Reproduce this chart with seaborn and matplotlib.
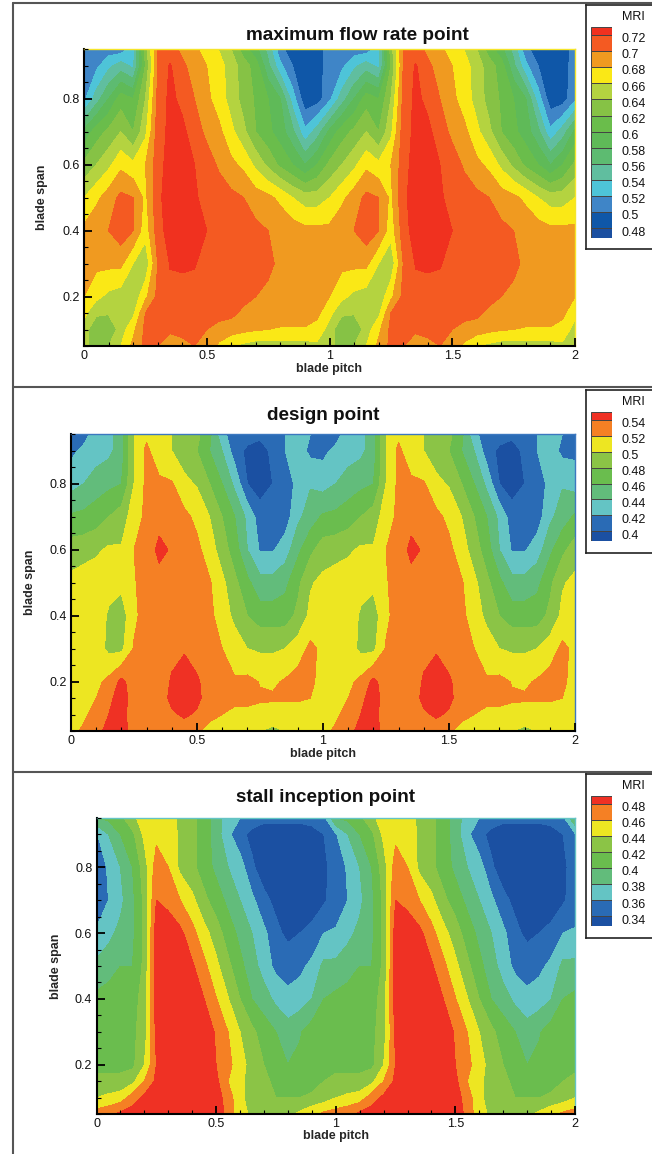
#!/usr/bin/env python
# coding: utf-8
import matplotlib
matplotlib.use("Agg")
import matplotlib.pyplot as plt
from matplotlib.lines import Line2D
from matplotlib.transforms import ScaledTranslation
import numpy as np
import seaborn as sns

# one blade passage, repeated once along the pitch
pitch = [0, .05, .1, .15, .2, .25, .3, .35, .4, .45, .5, .55, .6, .65, .7, .75, .8, .85, .9, .95]
span = [.05, .1, .15, .2, .3, .4, .5, .6, .7, .8, .9, .95]

mri_max_flow = [
    [.65, .625, .64, .66, .685, .705, .70, .685, .695, .70, .695, .675, .66, .655, .65, .65, .65, .652, .652, .655],
    [.652, .62, .622, .65, .675, .705, .705, .705, .705, .705, .70, .695, .69, .685, .682, .68, .678, .678, .678, .672],
    [.665, .645, .642, .645, .655, .70, .71, .71, .71, .71, .71, .705, .705, .695, .69, .69, .69, .69, .69, .685],
    [.68, .665, .655, .65, .645, .675, .705, .715, .715, .715, .715, .712, .712, .707, .70, .695, .69, .69, .69, .685],
    [.685, .685, .685, .685, .66, .645, .70, .721, .722, .721, .715, .715, .715, .715, .71, .705, .695, .69, .69, .69],
    [.685, .695, .70, .712, .70, .668, .71, .73, .73, .73, .72, .715, .715, .71, .705, .70, .695, .69, .685, .685],
    [.66, .675, .69, .705, .70, .675, .715, .73, .73, .722, .715, .71, .705, .70, .69, .685, .675, .66, .65, .65],
    [.625, .64, .655, .675, .665, .68, .71, .73, .73, .72, .71, .697, .685, .675, .655, .635, .615, .60, .58, .60],
    [.585, .61, .625, .64, .62, .655, .71, .725, .725, .71, .695, .685, .665, .645, .62, .605, .59, .565, .525, .55],
    [.515, .55, .58, .61, .60, .64, .705, .725, .715, .70, .685, .67, .652, .632, .617, .60, .58, .53, .487, .49],
    [.51, .515, .535, .55, .535, .62, .70, .722, .705, .69, .68, .668, .65, .63, .61, .565, .525, .50, .485, .49],
    [.51, .51, .51, .51, .53, .63, .70, .71, .695, .685, .67, .659, .64, .61, .586, .553, .505, .49, .485, .488],
]
mri_design = [
    [.51, .525, .53, .55, .55, .53, .53, .53, .53, .53, .525, .51, .51, .505, .505, .50, .495, .50, .505, .51],
    [.505, .515, .53, .54, .55, .525, .53, .53, .537, .543, .537, .528, .52, .515, .515, .515, .513, .51, .51, .51],
    [.505, .51, .52, .535, .55, .53, .53, .53, .545, .552, .545, .53, .53, .525, .525, .522, .522, .523, .523, .52],
    [.505, .51, .515, .525, .545, .53, .53, .53, .542, .55, .543, .53, .528, .522, .525, .519, .517, .522, .528, .528],
    [.515, .515, .51, .495, .495, .522, .53, .53, .535, .538, .53, .528, .52, .51, .50, .497, .497, .50, .51, .525],
    [.51, .51, .508, .498, .49, .515, .53, .53, .53, .53, .53, .525, .51, .495, .48, .47, .47, .47, .485, .505],
    [.505, .51, .51, .505, .505, .518, .53, .53, .53, .53, .53, .522, .505, .485, .465, .447, .447, .455, .475, .498],
    [.49, .492, .497, .503, .502, .52, .525, .547, .537, .53, .525, .51, .49, .47, .44, .418, .418, .43, .455, .475],
    [.463, .465, .47, .48, .49, .51, .525, .53, .53, .525, .515, .50, .48, .46, .435, .41, .405, .41, .435, .45],
    [.432, .44, .45, .455, .46, .50, .525, .525, .522, .505, .498, .48, .46, .435, .40, .39, .40, .41, .425, .438],
    [.415, .425, .43, .435, .45, .50, .525, .505, .50, .49, .48, .46, .44, .41, .395, .39, .405, .42, .43, .415],
    [.41, .412, .43, .435, .45, .50, .515, .515, .50, .49, .485, .465, .425, .41, .41, .405, .41, .42, .43, .42],
]
mri_stall = [
    [.47, .475, .485, .49, .50, .50, .50, .50, .50, .50, .50, .47, .45, .435, .43, .43, .435, .445, .455, .465],
    [.44, .445, .45, .47, .485, .50, .50, .50, .50, .50, .49, .47, .445, .43, .425, .42, .42, .42, .425, .43],
    [.425, .425, .425, .435, .46, .485, .50, .50, .50, .50, .485, .46, .445, .43, .425, .415, .41, .41, .41, .42],
    [.415, .415, .415, .415, .44, .48, .50, .50, .50, .495, .48, .465, .45, .43, .42, .41, .40, .405, .41, .41],
    [.41, .415, .415, .415, .43, .485, .50, .50, .50, .49, .478, .46, .44, .425, .41, .40, .39, .398, .41, .415],
    [.405, .41, .41, .41, .43, .49, .50, .50, .49, .48, .461, .441, .42, .40, .39, .375, .365, .37, .38, .40],
    [.385, .39, .40, .40, .425, .49, .495, .49, .483, .465, .445, .425, .405, .39, .37, .355, .352, .355, .365, .385],
    [.362, .375, .385, .395, .425, .49, .49, .485, .467, .447, .43, .41, .395, .38, .365, .345, .335, .34, .345, .36],
    [.35, .36, .375, .395, .425, .48, .475, .46, .445, .425, .41, .395, .38, .365, .345, .335, .33, .33, .33, .337],
    [.35, .362, .38, .40, .43, .47, .46, .435, .425, .41, .395, .38, .37, .343, .33, .33, .33, .33, .33, .335],
    [.358, .38, .40, .415, .445, .455, .455, .435, .425, .41, .39, .365, .345, .335, .33, .33, .33, .33, .335, .34],
    [.40, .405, .415, .435, .45, .455, .45, .435, .425, .41, .39, .37, .36, .35, .345, .345, .345, .345, .345, .355],
]

levels_max_flow = [.48, .50, .52, .54, .56, .58, .60, .62, .64, .66, .68, .70, .72]
levels_design = [.40, .42, .44, .46, .48, .50, .52, .54]
levels_stall = [.34, .36, .38, .40, .42, .44, .46, .48]

colors_max_flow = ['#1B4FA0', '#0F57A8', '#3F85C7', '#4EC4D8', '#60BE9F', '#5DBB71', '#5FBA58', '#6ABD4B',
                   '#86C245', '#B4D340', '#FAE816', '#F09A20', '#F45A22', '#F0311F']
colors_other = ['#1B50A2', '#2A6BB5', '#64C4C4', '#62BC7B', '#6ABD4E', '#8BC446', '#EDE622', '#F58024', '#EF3124']

titles = ['maximum flow rate point', 'design point', 'stall inception point']

W, H = 652, 1154


def px_axes(fig, x0, y0, x1, y1):
    # axes from pixel box, y counted from the top
    return fig.add_axes([x0 / W, 1 - y1 / H, (x1 - x0) / W, (y1 - y0) / H])


def full_period(values):
    # second passage is the same as the first one
    values = np.array(values)
    return np.hstack([values, values, values[:, :1]])


def plot_panel(fig, box, values, levels, colors, title, title_xy, ylabel_x, xlabel_y, edge):
    ax = px_axes(fig, *box)
    x = np.concatenate([pitch, np.array(pitch) + 1, [2]])
    bounds = [0.0] + levels + [1.0]
    ax.contourf(x, span, full_period(values), levels=bounds, colors=sns.color_palette(colors))
    ax.set_xlim(0, 2)
    ax.set_ylim(0.05, 0.95)
    ax.grid(False)
    ax.set_axisbelow(False)
    ax.set_xticks([0, 0.5, 1, 1.5, 2], ['0', '0.5', '1', '1.5', '2'])
    ax.set_xticks(np.arange(0, 2.01, 0.1), minor=True)
    ax.set_yticks([0.2, 0.4, 0.6, 0.8], ['0.2', '0.4', '0.6', '0.8'])
    ax.set_yticks(np.arange(0.05, 0.951, 0.05), minor=True)
    ax.tick_params(which='major', direction='in', length=5.8, width=1.3, color='black', labelsize=9,
                   labelcolor='#111111', pad=3, bottom=True, left=True)
    ax.tick_params(which='minor', direction='in', length=3, width=0.8, color='black', bottom=True, left=True)
    for side in ['left', 'bottom']:
        ax.spines[side].set_color('black')
        ax.spines[side].set_linewidth(1.5)
    for side in ['top', 'right']:
        ax.spines[side].set_color(edge)
        ax.spines[side].set_linewidth(1.0)
    ax.set_xlabel('blade pitch', fontsize=9, fontweight='bold')
    ax.set_ylabel('blade span', fontsize=9, fontweight='bold')
    ax.xaxis.set_label_coords(0.5, 1 - (xlabel_y + 2 - box[1]) / (box[3] - box[1]), transform=ax.transAxes)
    ax.xaxis.label.set_va('center')
    ax.yaxis.set_label_coords((ylabel_x + 2.5 - box[0]) / (box[2] - box[0]), 0.5, transform=ax.transAxes)
    ax.yaxis.label.set_va('center')
    fig.text(title_xy[0] / W, 1 - title_xy[1] / H, title, fontsize=13.6, fontweight='bold',
             ha='center', va='center', color='#111111')
    return ax


def plot_legend(fig, box, bar, levels, colors, mri_y):
    # white legend frame with the level bar in it
    frame = px_axes(fig, *box)
    frame.set_xticks([])
    frame.set_yticks([])
    for spine in frame.spines.values():
        spine.set_color('#222222')
        spine.set_linewidth(1.2)
    frame.text((622 - box[0]) / (box[2] - box[0]), 1 - (mri_y - box[1]) / (box[3] - box[1]), 'MRI',
               fontsize=9, ha='left', va='center', transform=frame.transAxes, color='#111111')

    ax = px_axes(fig, *bar)
    step = levels[1] - levels[0]
    # top and bottom bands are cut short like in the tecplot legend
    low = levels[0] - step * 0.6
    high = levels[-1] + step * 0.5
    edges = [low] + levels + [high]
    ax.bar(0, np.diff(edges), bottom=edges[:-1], width=1, color=colors, edgecolor='#444444', linewidth=0.7)
    ax.set_xlim(-0.5, 0.5)
    ax.set_ylim(low, high)
    ax.set_xticks([])
    ax.yaxis.tick_right()
    ax.set_yticks(levels, [f'{v:g}' for v in levels])
    ax.tick_params(axis='y', length=0, pad=6.5, labelsize=9, labelcolor='#111111')
    # labels sit a little under their level line
    shift = ScaledTranslation(0, -2.7 / 100, fig.dpi_scale_trans)
    for label in ax.get_yticklabels():
        label.set_transform(label.get_transform() + shift)
    for spine in ax.spines.values():
        spine.set_visible(False)
    return ax


sns.set_theme(style='white')
plt.rcParams['font.family'] = ['Liberation Sans', 'DejaVu Sans']

fig = plt.figure(figsize=(W / 100, H / 100), dpi=100)

plot_panel(fig, (84, 49.3, 575, 346), mri_max_flow, levels_max_flow, colors_max_flow, titles[0],
           (357.5, 35), 40, 367, '#F5E52A')
plot_panel(fig, (71, 434.3, 575, 731), mri_design, levels_design, colors_other, titles[1],
           (323.5, 415), 28, 752, '#3C78C0')
plot_panel(fig, (96.5, 817.7, 575, 1114.3), mri_stall, levels_stall, colors_other, titles[2],
           (325, 797), 53, 1134, '#64C4C4')

plot_legend(fig, (586, 5, 653, 249), (591, 27, 612, 238), levels_max_flow, colors_max_flow, 17)
plot_legend(fig, (586, 390, 653, 553), (591, 411.7, 612, 541), levels_design, colors_other, 401.7)
plot_legend(fig, (586, 774, 653, 938), (591, 796, 612, 926), levels_stall, colors_other, 785.7)

# outer frames of the three panels
for y in [2.5, 387, 771.5]:
    fig.add_artist(Line2D([13.5 / W, 1], [1 - y / H, 1 - y / H], color='#555555', linewidth=1.5))
fig.add_artist(Line2D([13.5 / W, 13.5 / W], [1 - 2.5 / H, 0], color='#555555', linewidth=1.5))

fig.savefig('out.png', dpi=100)
